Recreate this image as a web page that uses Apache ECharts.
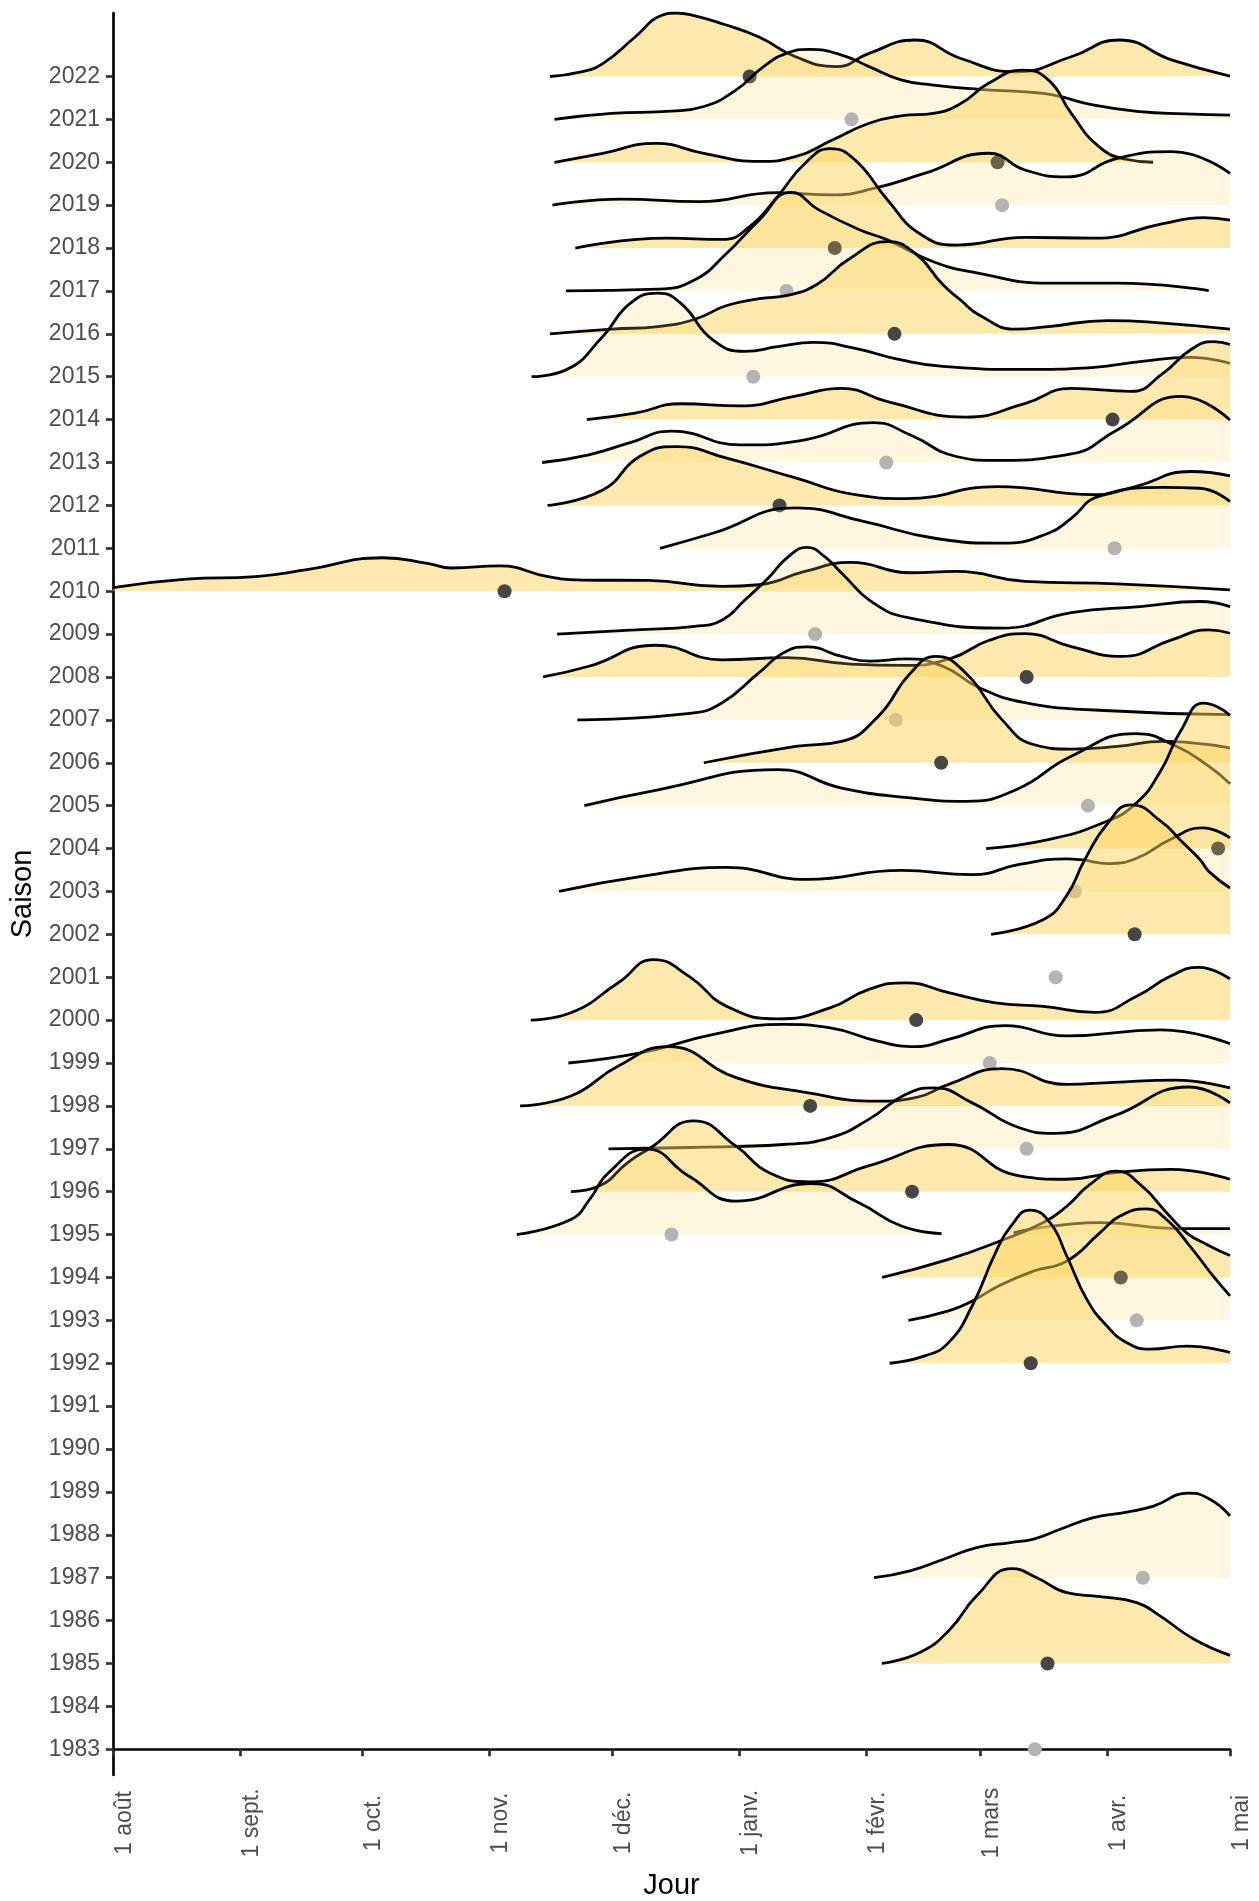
<!DOCTYPE html>
<html><head><meta charset="utf-8">
<script src="https://cdn.jsdelivr.net/npm/echarts@6/dist/echarts.min.js"></script>
<style>html,body{margin:0;padding:0;background:#fff}#c{width:1259px;height:1901px}</style>
</head><body><div id="c"></div>
<script>
// y categories (bottom to top)
const seasons = [];
for (let y = 1983; y <= 2022; y++) seasons.push(y);
// x axis: days since 1 August
const monthTicks = [0, 31, 61, 92, 122, 153, 184, 212, 243, 273];
const monthLabels = ['1 août', '1 sept.', '1 oct.', '1 nov.', '1 déc.', '1 janv.', '1 févr.', '1 mars', '1 avr.', '1 mai'];

// ridge curves: [day, relative height]
const d2022 = [[106.8,0],[114.1,0.1],[119.7,0.3],[127.6,0.92],[134,1.42],[137.7,1.48],[142,1.42],[148.9,1.23],[157.9,0.92],[166.8,0.46],[176.9,0.23],[184.8,0.54],[196,0.85],[207.2,0.42],[220.7,0.11],[234.2,0.46],[245.9,0.85],[258.9,0.38],[273,0.01]];
const d2021 = [[107.9,0],[121.9,0.14],[136.5,0.19],[144.4,0.3],[152.2,0.68],[159,1.23],[164.6,1.54],[170.2,1.63],[178.1,1.5],[184.8,1.23],[192.6,0.92],[200.5,0.8],[211.7,0.7],[223,0.64],[229.7,0.57],[239.8,0.33],[251,0.18],[262,0.13],[273,0.1]];
const d2020 = [[107.9,0],[119.7,0.21],[132.6,0.44],[144.4,0.21],[157.9,0.02],[166.8,0.13],[175.8,0.52],[184.8,0.91],[192.6,1.08],[200.5,1.14],[207.2,1.37],[214,1.84],[222.4,2.15],[228.6,1.92],[234.2,1.14],[240.9,0.37],[247.6,0.07],[254.2,0]];
const d2019 = [[107.4,0],[124.2,0.14],[143.3,0.08],[162.4,0.29],[175.8,0.24],[185.9,0.39],[198.3,0.74],[214,1.21],[222.9,0.82],[233.1,0.66],[245.4,1.09],[258.9,1.25],[273,0.74]];
const d2018 = [[113,0],[135.4,0.23],[148.9,0.2],[155.6,0.5],[162.4,1.2],[169.1,1.97],[175.3,2.32],[181.4,2.05],[189.3,1.12],[197.1,0.34],[206.1,0.07],[223,0.25],[239.8,0.23],[256.6,0.57],[266.7,0.71],[273,0.65]];
const d2017 = [[110.7,0],[133.2,0.04],[142.2,0.26],[150,0.88],[157.9,1.65],[165.7,2.3],[172.5,1.89],[182.6,1.42],[189.3,1.19],[200.5,0.68],[211.7,0.41],[228.6,0.18],[245.4,0.18],[267.8,0.01]];
const d2016 = [[106.8,0],[121.9,0.11],[133.2,0.17],[142.2,0.34],[150,0.66],[158,0.82],[165,0.9],[172,1.15],[180,1.75],[189.3,2.15],[196,1.88],[202.8,1.15],[207,0.8],[212,0.42],[220.7,0.11],[228.6,0.17],[243.2,0.31],[256.6,0.25],[273,0.11]];
const d2015 = [[102.3,0],[110.7,0.16],[119.7,0.94],[126.4,1.71],[133.2,1.95],[138.8,1.71],[146.6,0.86],[154.5,0.59],[162.4,0.7],[171.3,0.8],[181.4,0.66],[192.6,0.39],[202.8,0.24],[223,0.17],[239.8,0.22],[251,0.35],[263.4,0.45],[273,0.31]];
const d2014 = [[115.8,0],[127.6,0.15],[138.8,0.37],[153.4,0.32],[166.8,0.55],[178.1,0.73],[189.3,0.42],[208.4,0.06],[223,0.38],[234.2,0.73],[248.8,0.66],[256.6,1.08],[263.4,1.63],[269,1.82],[273,1.75]];
const d2013 = [[104.9,0],[116.3,0.18],[126,0.45],[136.5,0.73],[153.4,0.41],[169.1,0.53],[185.9,0.93],[194.9,0.64],[206.1,0.14],[215.1,0.05],[234.2,0.2],[245.4,0.76],[261.1,1.54],[273,0.99]];
const d2012 = [[106.2,0],[119.7,0.36],[128.7,1.14],[137.7,1.37],[150,1.1],[166.8,0.64],[181.4,0.25],[193.8,0.16],[216.2,0.44],[239.8,0.25],[249.9,0.44],[263.4,0.79],[273,0.69]];
const d2011 = [[133.7,0],[146.6,0.35],[166.8,0.94],[183.7,0.62],[200.5,0.24],[217.3,0.12],[228.6,0.35],[234.2,0.7],[240.9,1.21],[256.6,1.42],[265.6,1.4],[273,1.09]];
const d2010 = [[0,0.085],[17.9,0.28],[34.8,0.34],[47.4,0.5],[65.9,0.78],[76.8,0.65],[82.7,0.54],[94.5,0.59],[106.3,0.34],[114.7,0.26],[130.9,0.25],[148.9,0.11],[157.9,0.15],[169.1,0.46],[180.3,0.67],[194.9,0.43],[206.1,0.46],[222.9,0.23],[245.4,0.17],[273,0.03]];
const d2009 = [[108.5,0],[127.6,0.1],[142.2,0.18],[148.9,0.33],[154.5,0.8],[160.1,1.3],[165,1.8],[169.6,2.02],[174,1.8],[178.1,1.42],[185.9,0.72],[194.9,0.37],[217.3,0.14],[234.2,0.5],[251,0.64],[265.6,0.76],[273,0.64]];
const d2008 = [[105.1,0],[116.3,0.25],[132.6,0.74],[148.9,0.4],[164.6,0.45],[180.3,0.3],[193.8,0.27],[205,0.44],[214,0.85],[222.9,1.01],[234.2,0.71],[246.5,0.48],[258.9,0.87],[267.8,1.1],[273,1.02]];
const d2007 = [[113.5,0],[141,0.15],[148.9,0.4],[157.9,1.1],[164.6,1.6],[169.6,1.7],[178.1,1.48],[184.8,1.37],[193.8,1.42],[202.8,1.25],[211.7,0.75],[222.9,0.4],[239.8,0.23],[273,0.12]];
const d2006 = [[144.4,0],[166.8,0.38],[178.1,0.5],[187,1.08],[194.9,2.09],[201.1,2.48],[208.4,2.09],[217.3,1.0],[225.2,0.42],[234.2,0.32],[245.4,0.38],[256.6,0.5],[273,0.34]];
const d2005 = [[115.2,0],[133.2,0.37],[162.4,0.84],[178.1,0.41],[194.9,0.18],[208.4,0.1],[220.7,0.37],[234.2,1.15],[249.9,1.68],[260,1.38],[267.8,0.92],[273,0.51]];
const d2004 = [[213.4,0],[228.6,0.21],[242,0.6],[250,1.05],[256,1.8],[261,2.75],[266.5,3.39],[270,3.3],[273,3.1]];
const d2003 = [[109,0],[129.2,0.35],[150,0.56],[169.6,0.28],[192.7,0.49],[210,0.39],[221.5,0.63],[233,0.76],[236.5,0.74],[243.4,0.65],[250.3,0.78],[258.4,1.21],[266.2,1.48],[273,1.25]];
const d2002 = [[214.6,0],[227.3,0.34],[233,0.89],[237.5,1.74],[243.2,2.6],[248.8,3.02],[256.6,2.6],[260.7,2.21],[265.6,1.75],[268,1.45],[273,1.08]];
const d2000 = [[102.1,0],[111.9,0.17],[123.5,0.87],[132.1,1.41],[140.8,1.02],[150,0.32],[162.7,0.03],[175.4,0.29],[184.6,0.71],[193.8,0.87],[204.2,0.64],[215.7,0.4],[227.3,0.32],[239.9,0.18],[250.3,0.56],[258.4,1.02],[265.3,1.23],[273,0.96]];
const d1999 = [[111.3,0],[129.2,0.24],[146.5,0.66],[163.8,0.9],[175.3,0.82],[186.9,0.51],[196.1,0.38],[204.2,0.55],[218,0.87],[233,0.63],[256.1,0.77],[273,0.45]];
const d1998 = [[99.5,0],[111.9,0.23],[123.5,0.93],[135.6,1.38],[152.3,0.66],[169.6,0.31],[186.9,0.11],[196.1,0.19],[204.2,0.5],[217.4,0.87],[233,0.5],[244.6,0.55],[259.5,0.6],[273,0.42]];
const d1997 = [[121.1,0],[140.8,0.03],[163.8,0.1],[175.4,0.26],[184.6,0.68],[193.8,1.27],[200.7,1.42],[210,1.07],[221.5,0.49],[230.1,0.36],[244.5,0.76],[263,1.44],[273,1.07]];
const d1996 = [[111.9,0],[118.8,0.13],[125.8,0.68],[131.5,1.03],[141.9,1.65],[152.3,1.06],[160.4,0.44],[170.7,0.23],[184.6,0.6],[204.2,1.1],[221.5,0.37],[233,0.29],[244.6,0.44],[258.4,0.52],[273,0.29]];
const d1995a = [[98.7,0],[111.9,0.35],[116.5,0.82],[121.1,1.44],[130.4,1.99],[140.8,1.36],[152.3,0.78],[170.7,1.19],[182.3,0.74],[192.7,0.2],[202.5,0.02]];
const d1995b = [[220.1,0.04],[241.3,0.28],[260,0.14],[273,0.14]];
const d1994 = [[188,0],[204.2,0.42],[216.8,0.85],[227.4,1.28],[233.1,1.66],[238.8,2.17],[245.1,2.48],[251.5,2.13],[257.5,1.51],[262.4,1.04],[267.3,0.77],[273,0.51]];
const d1993 = [[194.4,0],[204.2,0.22],[210,0.45],[216.8,0.82],[225,1.15],[233.1,1.38],[241.2,2.04],[246.1,2.43],[252.6,2.6],[257.5,2.35],[263.2,1.73],[268.9,1.03],[273,0.57]];
const d1992 = [[189.8,0],[198.4,0.17],[204.2,0.48],[210,1.34],[215.7,2.58],[219.5,3.2],[224.1,3.57],[229,3.28],[233.1,2.5],[238,1.49],[242.9,0.87],[247.8,0.48],[253.5,0.33],[262.4,0.4],[273,0.25]];
const d1987 = [[186,0],[194.8,0.16],[203,0.43],[211.1,0.7],[219.3,0.82],[225,0.9],[231.5,1.13],[239.6,1.4],[247.8,1.53],[254.3,1.67],[262.8,1.97],[268.1,1.83],[273,1.44]];
const d1985 = [[187.9,0],[197.3,0.26],[204.6,0.8],[211.1,1.58],[219.7,2.21],[225.8,2.0],[233.1,1.65],[241.2,1.56],[250.2,1.42],[255.9,1.11],[264.1,0.57],[273,0.19]];

// points (one per season, top to bottom)
const dotSeasons = [2022,2021,2020,2019,2018,2017,2016,2015,2014,2013,2012,2011,2010,2009,2008,2007,2006,2005,2004,2003,2002,2001,2000,1999,1998,1997,1996,1995,1994,1993,1992,1987,1985,1983];
const dotDays = [155.6,180.5,216.2,217.3,176.4,164.6,191,156.5,244.3,189,162.9,244.8,95.7,171.6,223.3,191.3,202.4,238.3,270.1,235.1,249.7,230.4,196.3,214.3,170.4,223.3,195.3,136.5,246.3,250.2,224.3,251.7,228.4,225.3];

const ridges = {
  2022:[d2022],2021:[d2021],2020:[d2020],2019:[d2019],2018:[d2018],2017:[d2017],2016:[d2016],2015:[d2015],
  2014:[d2014],2013:[d2013],2012:[d2012],2011:[d2011],2010:[d2010],2009:[d2009],2008:[d2008],2007:[d2007],
  2006:[d2006],2005:[d2005],2004:[d2004],2003:[d2003],2002:[d2002],2000:[d2000],1999:[d1999],1998:[d1998],
  1997:[d1997],1996:[d1996],1995:[d1995a,d1995b],1994:[d1994],1993:[d1993],1992:[d1992],1987:[d1987],1985:[d1985]
};

const FILL_DARK = 'rgba(251,211,91,0.5)';
const FILL_LIGHT = 'rgba(251,211,91,0.2)';
const DOT_DARK = '#464646';
const DOT_LIGHT = '#b3b3b3';

const series = [];
dotSeasons.forEach((season, k) => {
  const yIdx = season - 1983;
  const dark = k % 2 === 0;
  const z = 2 + k * 2;
  (ridges[season] || []).forEach(piece => {
    series.push({
      type: 'line',
      data: piece.map(p => [p[0], yIdx + p[1]]),
      smooth: 0.5,
      symbol: 'none',
      showSymbol: false,
      silent: true,
      z: z,
      lineStyle: { color: '#000', width: 2.8 },
      areaStyle: { color: dark ? FILL_DARK : FILL_LIGHT, opacity: 1, origin: yIdx },
      emphasis: { disabled: true }
    });
  });
  series.push({
    type: 'scatter',
    data: [[dotDays[k], yIdx]],
    symbol: 'circle',
    symbolSize: 14,
    silent: true,
    z: z + 1,
    itemStyle: { color: dark ? DOT_DARK : DOT_LIGHT, opacity: 1 },
    emphasis: { disabled: true }
  });
});

const yTickVals = seasons.map((s, i) => i);
const chart = echarts.init(document.getElementById('c'), null, { renderer: 'canvas' });
chart.setOption({
  animation: false,
  backgroundColor: '#fff',
  textStyle: { fontFamily: 'Liberation Sans, Arial, sans-serif' },
  grid: { left: 113, right: 29, top: 13, bottom: 126, containLabel: false, outerBoundsMode: 'none' },
  xAxis: {
    type: 'value', min: 0, max: 273,
    name: 'Jour', nameLocation: 'middle', nameGap: 96,
    nameTextStyle: { fontSize: 29, color: '#000', fontFamily: 'Liberation Sans' },
    axisLine: { show: true, lineStyle: { color: '#000', width: 2.7 } },
    axisTick: { show: true, length: 7, lineStyle: { color: '#333', width: 2.7 }, customValues: monthTicks },
    axisLabel: {
      customValues: monthTicks, rotate: 90, fontSize: 23, color: '#4d4d4d', margin: 48,
      align: 'center', verticalAlign: 'top', fontFamily: 'Liberation Sans',
      formatter: v => monthLabels[monthTicks.indexOf(Math.round(v))]
    },
    splitLine: { show: false }
  },
  yAxis: {
    type: 'value', min: -0.6, max: 40.48,
    name: 'Saison', nameLocation: 'middle', nameGap: 76,
    nameTextStyle: { fontSize: 29, color: '#000', fontFamily: 'Liberation Sans' },
    axisLine: { show: true, lineStyle: { color: '#000', width: 2.7 } },
    axisTick: { show: true, length: 7, lineStyle: { color: '#333', width: 2.7 }, customValues: yTickVals },
    axisLabel: {
      customValues: yTickVals, fontSize: 23, color: '#4d4d4d', margin: 13, fontFamily: 'Liberation Sans',
      formatter: v => String(seasons[Math.round(v)])
    },
    splitLine: { show: false }
  },
  series: series
});
</script>
</body></html>
